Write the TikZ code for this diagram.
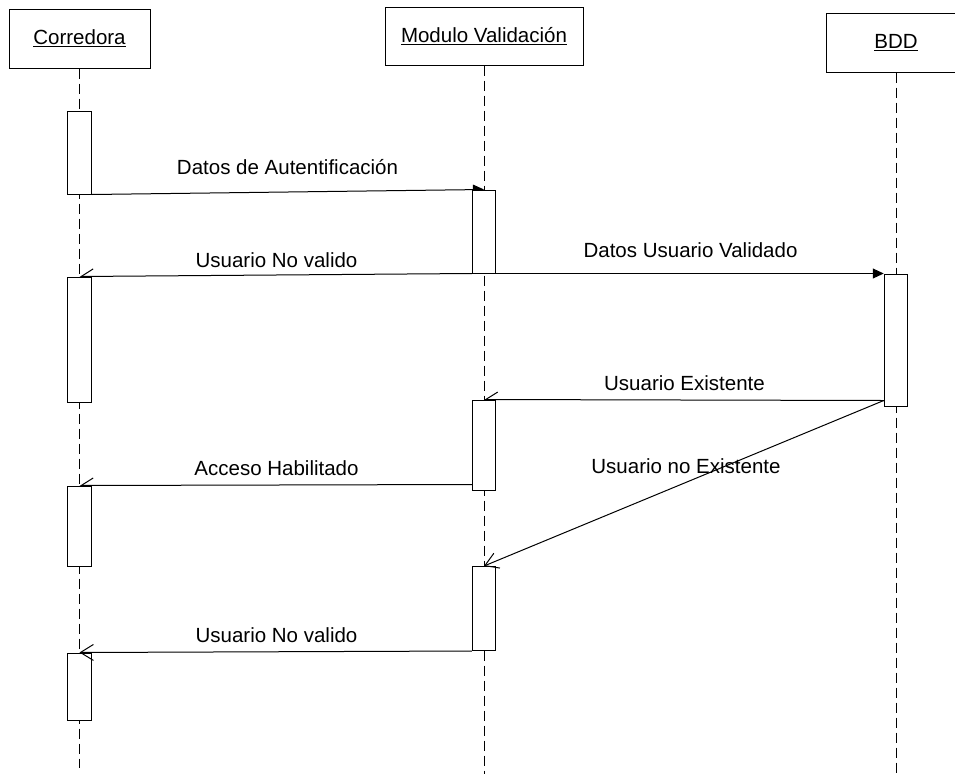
\documentclass[tikz,border=0pt]{standalone}
\usepackage{fontspec}
\setmainfont{Liberation Sans}
\usetikzlibrary{arrows.meta,backgrounds}
\begin{document}
\begin{tikzpicture}[x=1pt,y=-1pt,
  txt/.style={font=\fontsize{20.5}{24}\selectfont},
  msglabel/.style={txt, anchor=base, inner sep=0pt},
  headbox/.style={txt, draw, line width=1pt, inner sep=0pt, minimum height=59pt},
  actbox/.style={draw, fill=white, line width=1pt, inner sep=0pt, minimum width=23.5pt},
  lifeline/.style={line width=1pt, dash pattern=on 10pt off 5pt},
  msgline/.style={line width=1pt},
  callmsg/.style={msgline, -{Triangle[length=11pt,width=10pt]}},
  halfmsg/.style={msgline, -{Straight Barb[right,length=12pt,width=15pt]}},
  openmsg/.style={msgline, -{Straight Barb[length=13pt,width=16pt]}},
]
\useasboundingbox (0,0) rectangle (955,774);

% participants
\node[headbox, minimum width=141pt] (corr) at (79.5,38.5) {\underline{Corredora}};
\node[headbox, minimum width=198pt, minimum height=58pt] (modv) at (484,36) {\underline{Modulo Validación}};
\node[headbox, minimum width=140pt] (bdd) at (896,42.5) {\underline{BDD}};

% lifeline ends
\coordinate (corrend) at (79.5,768);
\coordinate (modvend) at (484,774);
\coordinate (bddend) at (896,774);

% activation bars
\node[actbox, minimum height=83pt]  (ca1) at (79.5,152.5) {};
\node[actbox, minimum height=125pt] (ca2) at (79.5,339.5) {};
\node[actbox, minimum height=80pt]  (ca3) at (79.5,526) {};
\node[actbox, minimum height=67pt]  (ca4) at (79.5,686.5) {};
\node[actbox, minimum height=83pt]  (mv1) at (484,231.5) {};
\node[actbox, minimum height=90pt]  (mv2) at (484,445) {};
\node[actbox, minimum height=84pt]  (mv3) at (484,608.5) {};
\node[actbox, minimum height=132pt] (b1)  at (896,340) {};

\coordinate (bq) at ([yshift=6pt]b1.south west);
\coordinate (mq) at ([yshift=6pt]mv2.south west);

% lifelines and the first call sit behind the bars
\begin{scope}[on background layer]
  \draw[lifeline] (corr.south) -- (corrend);
  \draw[lifeline] (modv.south) -- (modvend);
  \draw[lifeline] (bdd.south) -- (bddend);
  \draw[callmsg] (ca1.south east) -- (mv1.north);
\end{scope}

% messages
\draw[halfmsg] (mv1.south west) -- (ca2.north);
\draw[callmsg] (mv1.south east) -- (b1.north west);
\draw[halfmsg] (bq) -- (mv2.north);
\draw[openmsg] (bq) -- (mv3.north);
\draw[halfmsg] (mq) -- (ca3.north);
\draw[openmsg] (mv3.south west) -- (ca4.north);

% message labels
\node[msglabel] (l1) at (287.5,174) {Datos de Autentificación};
\node[msglabel] (l2) at (276.5,267) {Usuario No valido};
\node[msglabel] (l3) at (690.5,257) {Datos Usuario Validado};
\node[msglabel] (l4) at (684.5,390) {Usuario Existente};
\node[msglabel] (l5) at (686,473) {Usuario no Existente};
\node[msglabel] (l6) at (276.5,475) {Acceso Habilitado};
\node[msglabel] (l7) at (276.5,642) {Usuario No valido};
\end{tikzpicture}
\end{document}
